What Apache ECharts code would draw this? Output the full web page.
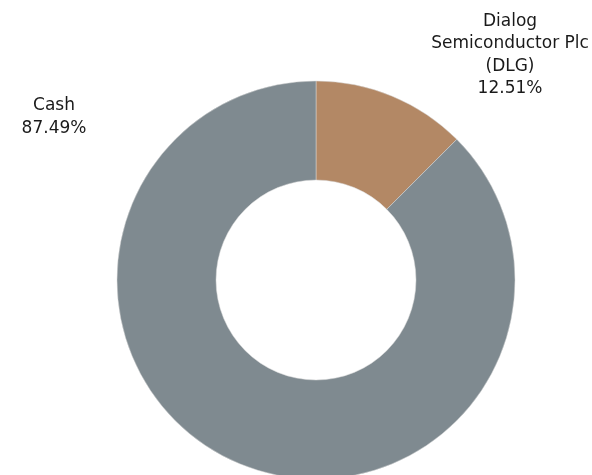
<!DOCTYPE html>
<html><head><meta charset="utf-8">
<script src="https://cdn.jsdelivr.net/npm/echarts@6/dist/echarts.min.js"></script>
<style>html,body{margin:0;padding:0;background:#fff}#c{width:592px;height:475px}</style>
</head><body><div id="c"></div>
<script>
const categories = ['Dialog\nSemiconductor Plc\n(DLG)', 'Cash'];
const values = [12.51, 87.49];
const colors = ['#b38865', '#7f8a90'];
const labelPos = [[510, 55], [54, 117]];

const chart = echarts.init(document.getElementById('c'), null, {renderer: 'canvas'});
chart.setOption({
  animation: false,
  series: [{
    type: 'pie',
    center: [316, 280],
    radius: [100, 199],
    startAngle: 90,
    clockwise: true,
    itemStyle: {borderColor: '#d8d8d8', borderWidth: 0.5},
    label: {
      show: true,
      position: 'outside',
      formatter: p => p.name + '\n' + p.value.toFixed(2) + '%',
      fontFamily: 'DejaVu Sans',
      fontSize: 17,
      lineHeight: 22.5,
      color: '#1a1a1a',
      align: 'center',
      overflow: 'none',
      width: 300
    },
    labelLine: {show: false},
    labelLayout: p => ({x: labelPos[p.dataIndex][0], y: labelPos[p.dataIndex][1], align: 'center', verticalAlign: 'middle', hideOverlap: false}),
    data: categories.map((c, i) => ({name: c, value: values[i], itemStyle: {color: colors[i]}}))
  }]
});
</script></body></html>
